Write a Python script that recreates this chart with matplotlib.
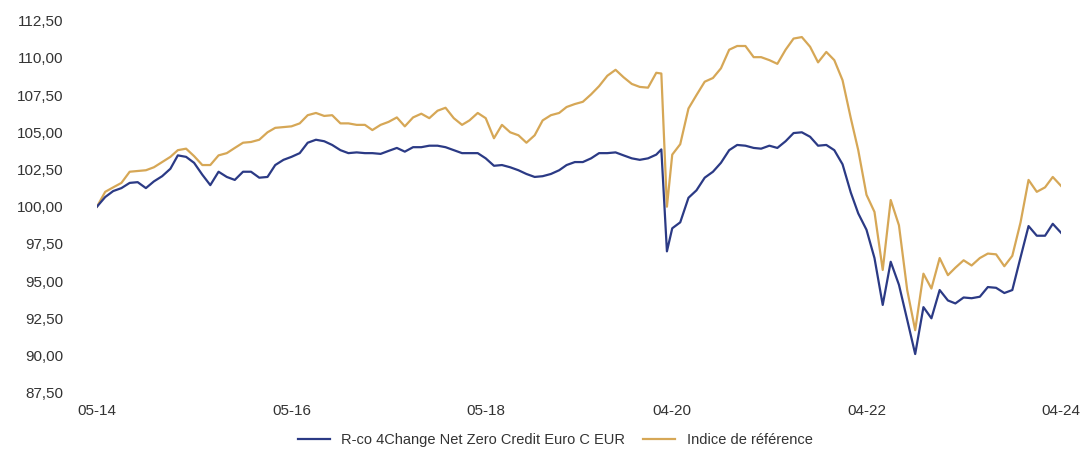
import matplotlib
matplotlib.use("Agg")
import matplotlib.pyplot as plt
import matplotlib.dates as mdates
import pandas as pd

# monthly readings, plus two extra points around the March 2020 crash
dates = list(pd.date_range("2014-05-01", "2020-02-01", freq="MS")) + [
    pd.Timestamp("2020-02-20"),
    pd.Timestamp("2020-03-12"),
] + list(pd.date_range("2020-04-01", "2024-04-01", freq="MS"))

fund = [
    100.00, 100.65, 101.05, 101.25, 101.60, 101.65, 101.25, 101.70, 102.05, 102.55,
    103.45, 103.35, 102.95, 102.15, 101.45, 102.35, 102.00, 101.80, 102.35, 102.35,
    101.95, 102.00, 102.80, 103.15, 103.35, 103.60, 104.30, 104.50, 104.40, 104.15,
    103.80, 103.60, 103.65, 103.60, 103.60, 103.55, 103.75, 103.95, 103.70, 104.00,
    104.00, 104.10, 104.10, 104.00, 103.80, 103.60, 103.60, 103.60, 103.25, 102.75,
    102.80, 102.65, 102.45, 102.20, 102.00, 102.05, 102.20, 102.45, 102.80, 103.00,
    103.00, 103.25, 103.60, 103.60, 103.65, 103.45, 103.25, 103.15, 103.25, 103.50,
    103.85, 97.00,
    98.55, 98.95, 100.60, 101.10, 101.95, 102.35, 102.95, 103.80, 104.15, 104.10,
    103.95, 103.90, 104.10, 103.95, 104.40, 104.95, 105.00, 104.70, 104.10, 104.15,
    103.80, 102.85, 100.95, 99.55, 98.45, 96.55, 93.40, 96.30, 94.75, 92.40,
    90.10, 93.25, 92.50, 94.40, 93.70, 93.50, 93.90, 93.85, 93.95, 94.60,
    94.55, 94.20, 94.40, 96.60, 98.70, 98.05, 98.05, 98.85, 98.25,
]

benchmark = [
    100.00, 101.00, 101.30, 101.60, 102.35, 102.40, 102.45, 102.65, 103.00, 103.35,
    103.80, 103.90, 103.40, 102.80, 102.80, 103.45, 103.60, 103.95, 104.30, 104.35,
    104.50, 105.00, 105.30, 105.35, 105.40, 105.60, 106.15, 106.30, 106.10, 106.15,
    105.60, 105.60, 105.50, 105.50, 105.15, 105.50, 105.70, 106.00, 105.40, 106.00,
    106.25, 105.95, 106.45, 106.65, 105.95, 105.50, 105.80, 106.30, 105.95, 104.60,
    105.50, 105.00, 104.80, 104.30, 104.80, 105.80, 106.15, 106.30, 106.70, 106.90,
    107.05, 107.55, 108.10, 108.80, 109.20, 108.70, 108.25, 108.05, 108.00, 109.00,
    108.95, 100.00,
    103.50, 104.20, 106.60, 107.50, 108.40, 108.65, 109.30, 110.55, 110.80, 110.80,
    110.05, 110.05, 109.85, 109.60, 110.55, 111.30, 111.40, 110.75, 109.70, 110.40,
    109.85, 108.50, 105.95, 103.80, 100.80, 99.65, 95.75, 100.45, 98.75, 94.40,
    91.70, 95.50, 94.50, 96.55, 95.40, 95.90, 96.40, 96.05, 96.55, 96.85,
    96.80, 96.00, 96.70, 98.95, 101.80, 101.00, 101.30, 102.00, 101.40,
]

series_labels = ["R-co 4Change Net Zero Credit Euro C EUR", "Indice de référence"]
tick_dates = ["2014-05-01", "2016-05-01", "2018-05-01", "2020-04-01", "2022-04-01", "2024-04-01"]
y_ticks = [87.5, 90, 92.5, 95, 97.5, 100, 102.5, 105, 107.5, 110, 112.5]

NAVY = "#2b3a85"
GOLD = "#d6a756"
TEXT = "#333333"

plt.rcParams["font.family"] = ["Liberation Sans", "DejaVu Sans"]

fig = plt.figure(figsize=(10.82, 4.5), dpi=100)
ax = fig.add_axes([0.0896, 0.1273, 0.8910, 0.8267])

ax.plot(dates, fund, color=NAVY, lw=1.6, label=series_labels[0], zorder=3)
ax.plot(dates, benchmark, color=GOLD, lw=1.6, label=series_labels[1], zorder=2)

ax.set_xlim(pd.Timestamp("2014-05-01"), pd.Timestamp("2024-04-01"))
ax.set_ylim(87.5, 112.5)
ax.set_yticks(y_ticks)
ax.set_yticklabels([f"{v:.2f}".replace(".", ",") for v in y_ticks])
ax.set_xticks([pd.Timestamp(d) for d in tick_dates])
ax.xaxis.set_major_formatter(mdates.DateFormatter("%m-%y"))

for s in ax.spines.values():
    s.set_visible(False)
ax.tick_params(axis="y", length=0, pad=24, labelsize=11, labelcolor=TEXT)
ax.tick_params(axis="x", length=0, pad=8, labelsize=11, labelcolor=TEXT)

handles, labels = ax.get_legend_handles_labels()
fig.legend(handles, labels, loc="center", bbox_to_anchor=(0.513, 0.022),
           ncol=2, frameon=False, fontsize=10.5, handlelength=2.2,
           columnspacing=1.2, labelcolor=TEXT)

fig.savefig("out.png", dpi=100)
